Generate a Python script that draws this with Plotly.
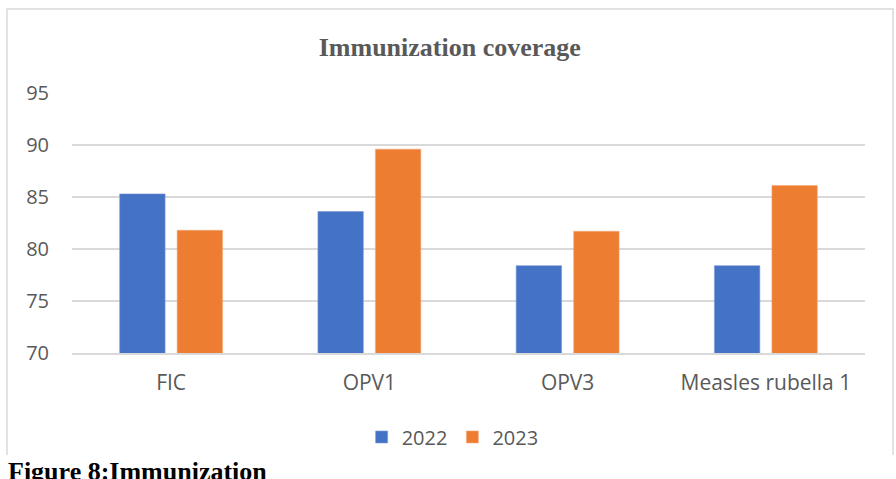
import plotly.graph_objects as go

categories = ["FIC", "OPV1", "OPV3", "Measles rubella 1"]
coverage_2022 = [85.3, 83.6, 78.4, 78.4]
coverage_2023 = [81.8, 89.6, 81.7, 86.1]
y_ticks = [70, 75, 80, 85, 90, 95]

fig = go.Figure()
fig.add_trace(go.Bar(name="2022", x=categories, y=coverage_2022,
                     marker=dict(color="#4472C4", line=dict(color="#7C9BD6", width=0.6))))
fig.add_trace(go.Bar(name="2023", x=categories, y=coverage_2023,
                     marker=dict(color="#ED7D31", line=dict(color="#F4A97A", width=0.6))))

fig.update_xaxes(
    showgrid=False,
    showline=True,
    linecolor="#D9D9D9",
    linewidth=2,
    ticks="",
    tickfont=dict(family="Open Sans", size=21, color="#595959"),
    ticklabelstandoff=10,
)
fig.update_yaxes(
    range=[70, 95],
    tickvals=y_ticks,
    showgrid=True,
    gridcolor="#D9D9D9",
    gridwidth=1.5,
    zeroline=False,
    showline=False,
    ticks="",
    tickfont=dict(family="Open Sans", size=20, color="#595959"),
    ticklabelstandoff=22,
)

# chart frame: left, top and right edges only
fig.add_shape(type="path", xref="paper", yref="paper",
              path="M -0.082,-0.392 L -0.082,1.323 L 1.0353,1.323 L 1.0353,-0.392",
              line=dict(color="#D9D9D9", width=1.5), layer="below")

fig.add_annotation(
    text="<b>Figure 8:Immunization</b>",
    xref="paper", yref="paper", x=-0.082, y=-0.396,
    xanchor="left", yanchor="top", showarrow=False,
    bgcolor="white", borderpad=0,
    font=dict(family="Liberation Serif", size=26, color="black"),
)

fig.update_layout(
    width=896,
    height=479,
    barmode="group",
    bargap=0.42,
    bargroupgap=0.21,
    title=dict(
        text="<b>Immunization coverage</b>",
        x=0.502,
        xanchor="center",
        y=0.902,
        yanchor="middle",
        font=dict(family="Liberation Serif", size=26, color="#595959"),
    ),
    legend=dict(
        orientation="h",
        x=0.48,
        xanchor="center",
        y=-0.323,
        yanchor="middle",
        font=dict(family="Open Sans", size=20, color="#595959"),
        itemwidth=30,
    ),
    margin=dict(l=72, r=31, t=93, b=126),
    plot_bgcolor="white",
    paper_bgcolor="white",
    showlegend=True,
)

fig.write_html("out.html", config={"displayModeBar": False},
               post_script="document.body.style.margin='0';")
